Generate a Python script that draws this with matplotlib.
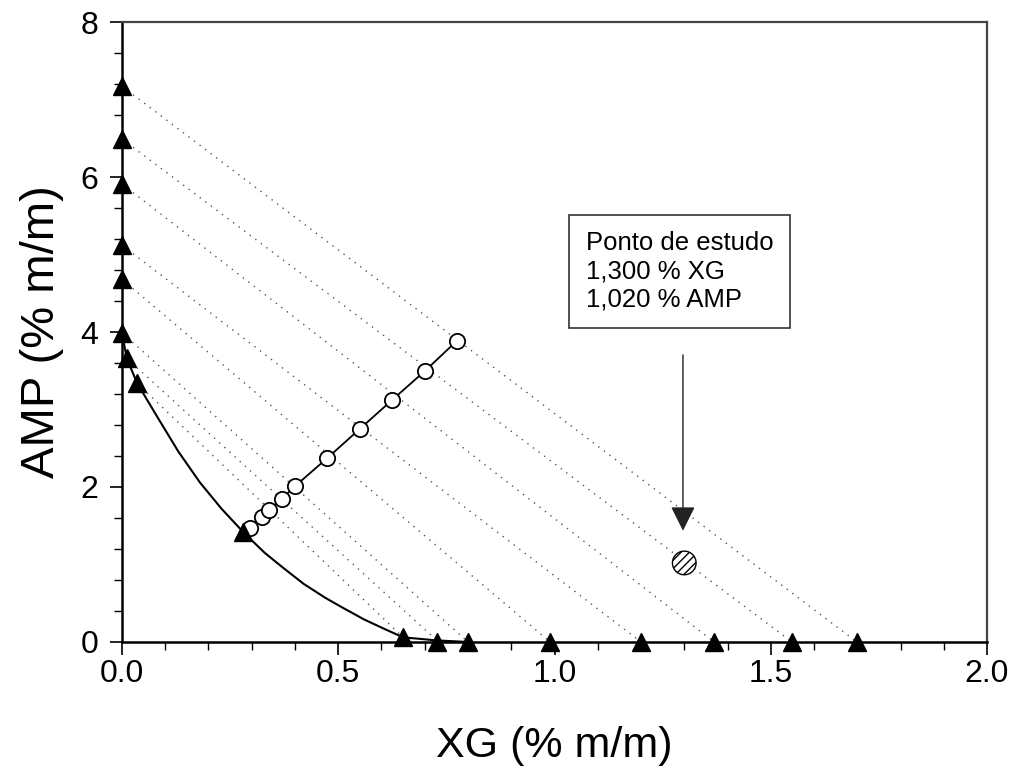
import matplotlib
matplotlib.use("Agg")
import matplotlib.pyplot as plt
from matplotlib.ticker import MultipleLocator, FormatStrFormatter

# binodal curve (XG, AMP in % m/m)
curve_x = [0.000, 0.011, 0.035, 0.080, 0.130, 0.180, 0.230, 0.280, 0.330,
           0.372, 0.420, 0.470, 0.511, 0.560, 0.610, 0.650, 0.728, 0.800]
curve_y = [3.99, 3.66, 3.34, 2.92, 2.46, 2.06, 1.72, 1.42, 1.15,
           0.96, 0.75, 0.57, 0.44, 0.29, 0.16, 0.06, 0.02, 0.00]

# measured binodal points (triangles)
tri_x = [0.0, 0.0, 0.0, 0.0, 0.0, 0.0, 0.011, 0.035, 0.280,
         0.650, 0.728, 0.800, 0.990, 1.200, 1.369, 1.549, 1.699]
tri_y = [7.17, 6.49, 5.91, 5.12, 4.68, 3.99, 3.66, 3.34, 1.42,
         0.06, 0.0, 0.0, 0.0, 0.0, 0.0, 0.0, 0.0]

# tie lines: top end (on AMP axis) -> bottom end (on XG axis)
tie_top_x = [0.0, 0.0, 0.0, 0.0, 0.0, 0.0, 0.011, 0.035]
tie_top_y = [7.17, 6.49, 5.91, 5.12, 4.68, 3.99, 3.66, 3.34]
tie_bot_x = [1.699, 1.549, 1.369, 1.200, 0.990, 0.800, 0.728, 0.650]
tie_bot_y = [0.0, 0.0, 0.0, 0.0, 0.0, 0.0, 0.02, 0.06]

# midpoints of the tie lines (open circles)
mid_x = [0.296, 0.324, 0.340, 0.370, 0.400, 0.474, 0.550, 0.624, 0.701, 0.775]
mid_y = [1.47, 1.61, 1.70, 1.85, 2.01, 2.37, 2.75, 3.12, 3.50, 3.89]

study_x, study_y = 1.300, 1.020
box_text = "Ponto de estudo\n1,300 % XG\n1,020 % AMP"

plt.rcParams.update({
    "font.family": ["Liberation Sans", "DejaVu Sans"],
    "xtick.labelsize": 23, "ytick.labelsize": 23,
})

fig = plt.figure(figsize=(10.14, 7.73), dpi=100)
ax = fig.add_axes([0.1203, 0.1695, 0.8531, 0.8020])

for x0, y0, x1, y1 in zip(tie_top_x, tie_top_y, tie_bot_x, tie_bot_y):
    ax.plot([x0, x1], [y0, y1], color="#555555", lw=1.0, ls=(0, (1, 4)),
            zorder=1)

ax.plot(curve_x, curve_y, color="black", lw=1.5, zorder=2)
ax.plot(mid_x, mid_y, color="black", lw=1.3, marker="o", ms=11,
        mfc="white", mec="black", mew=1.3, zorder=3)
ax.plot(tri_x, tri_y, ls="none", marker="^", ms=13, color="black",
        clip_on=False, zorder=4)

ax.scatter([study_x], [study_y], s=290, marker="o", facecolor="white",
           edgecolor="black", hatch="////", linewidth=1.0, zorder=4)

ax.annotate("", xy=(study_x - 0.003, 1.40), xytext=(study_x - 0.003, 3.74),
            arrowprops=dict(arrowstyle="-|>", color="#222222", lw=1.0,
                            mutation_scale=38))
ax.text(1.073, 5.30, box_text, ha="left", va="top", fontsize=18.5,
        linespacing=1.22,
        bbox=dict(boxstyle="square,pad=0.65", fc="white", ec="#333333",
                  lw=1.2))

ax.set_xlim(0, 2.0)
ax.set_ylim(0, 8)
ax.xaxis.set_major_locator(MultipleLocator(0.5))
ax.xaxis.set_minor_locator(MultipleLocator(0.1))
ax.yaxis.set_major_locator(MultipleLocator(2))
ax.yaxis.set_minor_locator(MultipleLocator(0.4))
ax.xaxis.set_major_formatter(FormatStrFormatter("%.1f"))
ax.tick_params(which="major", direction="out", length=9, width=1.2)
ax.tick_params(which="minor", direction="out", length=6, width=1.0)
ax.tick_params(axis="x", which="major", pad=3)
ax.tick_params(axis="y", which="major", pad=8)

for side in ("left", "bottom"):
    ax.spines[side].set_linewidth(1.8)
    ax.spines[side].set_color("black")
for side in ("top", "right"):
    ax.spines[side].set_linewidth(1.6)
    ax.spines[side].set_color("#444444")

ax.set_xlabel("XG (% m/m)", fontsize=31, labelpad=27)
ax.set_ylabel("AMP (% m/m)", fontsize=34, labelpad=12)

fig.savefig("out.png")
